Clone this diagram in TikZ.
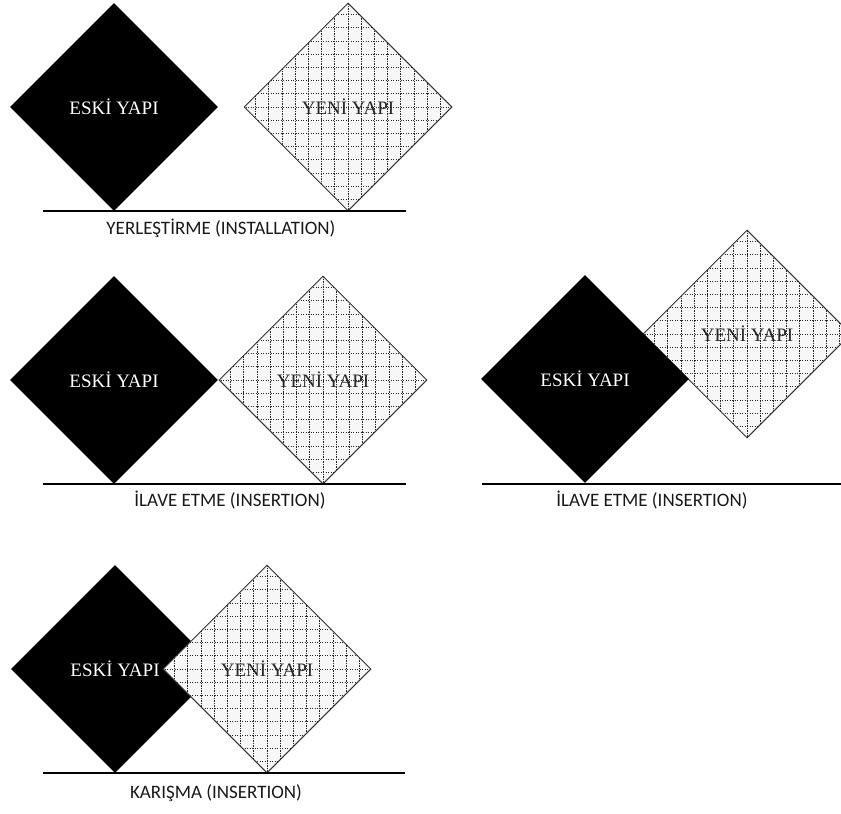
\documentclass[tikz,border=0pt]{standalone}
\usepackage{fontspec}
\setmainfont{Liberation Serif}
\newfontfamily\capfont{Carlito}
\usetikzlibrary{shapes.geometric}
\begin{document}
\begin{tikzpicture}[x=1pt,y=-1pt,
  griddot/.style={draw=black!85, line width=1pt, dash pattern=on 1.2pt off 1.3pt},
  base/.style={diamond, aspect=1, minimum width=208pt, minimum height=208pt, inner sep=0pt,
    font=\fontsize{19}{22}\selectfont},
  eski/.style={base, fill=black, text=white},
  yeni/.style={base, draw=black!80, line width=1pt, fill=black!3, text=black!85,
    path picture={
      \foreach \k in {-8,...,8}{
        \draw[griddot] ([xshift=\k*13.2pt]path picture bounding box.center) ++(0pt,-110pt) -- ++(0pt,220pt);
        \draw[griddot] ([yshift=\k*13.2pt]path picture bounding box.center) ++(-110pt,0pt) -- ++(220pt,0pt);
      }
    }},
  ground/.style={draw=black, line width=1.1pt},
  caption/.style={font=\capfont\fontsize{19}{22}\selectfont, text=black!90}
]
\useasboundingbox (0,0) rectangle (841,814);

% panel 1
\node[eski] (e1) at (114,107) {ESKİ YAPI};
\node[yeni] (y1) at (348,107) {YENİ YAPI};
\coordinate (g1a) at (43,211);
\coordinate (g1b) at (406,211);
\draw[ground] (g1a) -- (g1b);
\node[caption] (c1) at (221,228) {YERLEŞTİRME (INSTALLATION)};

% panel 2
\node[eski] (e2) at (114,380) {ESKİ YAPI};
\node[yeni] (y2) at (323,380) {YENİ YAPI};
\coordinate (g2a) at (43,484);
\coordinate (g2b) at (406,484);
\draw[ground] (g2a) -- (g2b);
\node[caption] (c2) at (230,500) {İLAVE ETME (INSERTION)};

% panel 3
\node[yeni] (y3) at (747,334) {YENİ YAPI};
\node[eski] (e3) at (585,379) {ESKİ YAPI};
\coordinate (g3a) at (482,484);
\coordinate (g3b) at (841,484);
\draw[ground] (g3a) -- (g3b);
\node[caption] (c3) at (652,500) {İLAVE ETME (INSERTION)};

% panel 4
\node[eski] (e4) at (115,669) {ESKİ YAPI};
\node[yeni] (y4) at (267,669) {YENİ YAPI};
\coordinate (g4a) at (43,773);
\coordinate (g4b) at (405,773);
\draw[ground] (g4a) -- (g4b);
\node[caption] (c4) at (216,793) {KARIŞMA (INSERTION)};
\end{tikzpicture}
\end{document}
